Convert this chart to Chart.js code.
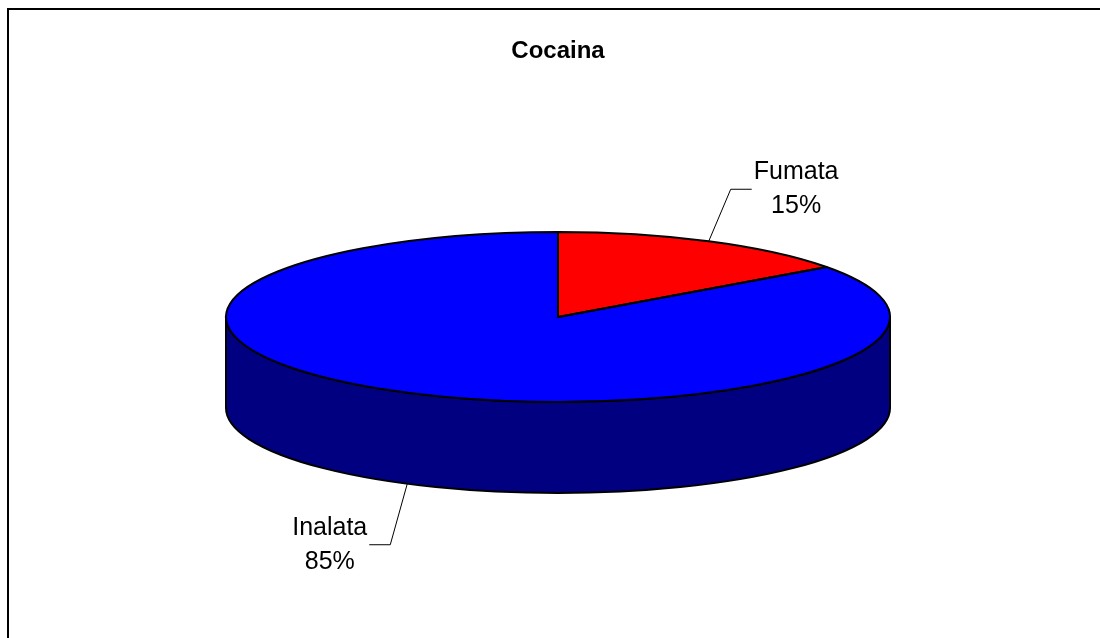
<!DOCTYPE html>
<html>
<head>
<meta charset="UTF-8">
<script src="https://cdn.jsdelivr.net/npm/chart.js@4.4.0/dist/chart.umd.min.js"></script>
<title>Cocaina</title>
<style>
    body { margin: 0; background: #fff; }
</style>
</head>
<body>
<canvas id="myChart" width="1100" height="638"></canvas>
<script>
const labels = ['Fumata', 'Inalata'];
const percent = [15, 85];
const topColors = ['#FF0000', '#0000FF'];
const sideColors = ['#800000', '#000080'];

// 3d look: vertical squash of the pie and thickness of the side wall
const tilt = 85 / 332;
const depth = 91;
// leader line: elbow offset from anchor, then horizontal run
const leaders = [{dx: 22, dy: -52, run: 21}, {dx: -17, dy: 61, run: -21}];

function geom(arc) {
    return arc.getProps(['x', 'y', 'startAngle', 'endAngle', 'outerRadius'], true);
}

const framePlugin = {
    id: 'frame',
    beforeDraw(chart) {
        const ctx = chart.ctx;
        ctx.save();
        ctx.strokeStyle = '#000';
        ctx.lineWidth = 2;
        ctx.beginPath();
        ctx.moveTo(8, chart.height + 5);
        ctx.lineTo(8, 9);
        ctx.lineTo(chart.width + 5, 9);
        ctx.stroke();
        ctx.restore();
    }
};

const pie3d = {
    id: 'pie3d',
    beforeDatasetsDraw(chart) {
        const ctx = chart.ctx;
        const arcs = chart.getDatasetMeta(0).data;
        // side walls, only the front half (angles 0..PI) is visible
        arcs.forEach((arc, i) => {
            const g = geom(arc);
            const r = g.outerRadius;
            for (let k = -1; k <= 1; k++) {
                const a0 = Math.max(g.startAngle, k * 2 * Math.PI);
                const a1 = Math.min(g.endAngle, Math.PI + k * 2 * Math.PI);
                if (a1 <= a0) continue;
                ctx.save();
                ctx.beginPath();
                ctx.ellipse(g.x, g.y, r, r * tilt, 0, a0, a1, false);
                ctx.lineTo(g.x + r * Math.cos(a1), g.y + r * tilt * Math.sin(a1) + depth);
                ctx.ellipse(g.x, g.y + depth, r, r * tilt, 0, a1, a0, true);
                ctx.closePath();
                ctx.fillStyle = sideColors[i];
                ctx.fill();
                ctx.strokeStyle = '#000';
                ctx.lineWidth = 2;
                ctx.lineJoin = 'round';
                ctx.stroke();
                ctx.restore();
            }
        });
        const g0 = geom(arcs[0]);
        ctx.save();
        ctx.translate(g0.x, g0.y);
        ctx.scale(1, tilt);
        ctx.translate(-g0.x, -g0.y);
    },
    afterDatasetsDraw(chart) {
        const ctx = chart.ctx;
        ctx.restore();
        const arcs = chart.getDatasetMeta(0).data;
        ctx.save();
        ctx.strokeStyle = '#000';
        ctx.lineWidth = 2;
        ctx.lineJoin = 'round';
        arcs.forEach((arc) => {
            const g = geom(arc);
            const r = g.outerRadius;
            ctx.beginPath();
            ctx.moveTo(g.x, g.y);
            ctx.ellipse(g.x, g.y, r, r * tilt, 0, g.startAngle, g.endAngle, false);
            ctx.closePath();
            ctx.stroke();
        });
        // labels with leader lines
        ctx.font = '25px "Liberation Sans", Arial, sans-serif';
        ctx.fillStyle = '#000';
        ctx.textAlign = 'center';
        ctx.textBaseline = 'middle';
        ctx.lineWidth = 1;
        const total = percent.reduce((a, b) => a + b, 0);
        arcs.forEach((arc, i) => {
            const g = geom(arc);
            const r = g.outerRadius;
            const mid = (g.startAngle + g.endAngle) / 2;
            const ax = g.x + r * Math.cos(mid);
            const ay = g.y + r * tilt * Math.sin(mid) + (Math.sin(mid) > 0 ? depth : 0);
            const L = leaders[i];
            const ex = ax + L.dx, ey = ay + L.dy;
            const fx = ex + L.run;
            ctx.beginPath();
            ctx.moveTo(ax, ay);
            ctx.lineTo(ex, ey);
            ctx.lineTo(fx, ey);
            ctx.stroke();
            const lines = [labels[i], Math.round(percent[i] / total * 100) + '%'];
            const w = Math.max(...lines.map(t => ctx.measureText(t).width));
            const cx = fx + Math.sign(L.run) * (w / 2 + 2);
            ctx.fillText(lines[0], cx, ey - 17);
            ctx.fillText(lines[1], cx, ey + 17);
        });
        ctx.restore();
    }
};

const ctx = document.getElementById('myChart').getContext('2d');
const myChart = new Chart(ctx, {
    type: 'pie',
    data: {
        labels: labels,
        datasets: [{
            data: percent,
            backgroundColor: topColors,
            borderWidth: 0
        }]
    },
    options: {
        responsive: false,
        animation: false,
        radius: 332,
        layout: { padding: { left: 16, right: 0, top: 0, bottom: 77 } },
        plugins: {
            legend: { display: false },
            tooltip: { enabled: false },
            title: {
                display: true,
                text: 'Cocaina',
                color: '#000',
                font: { family: '"Liberation Sans", Arial, sans-serif', size: 24, weight: 'bold', lineHeight: 1 },
                padding: { top: 39, bottom: 10 }
            }
        }
    },
    plugins: [framePlugin, pie3d]
});
</script>
</body>
</html>
